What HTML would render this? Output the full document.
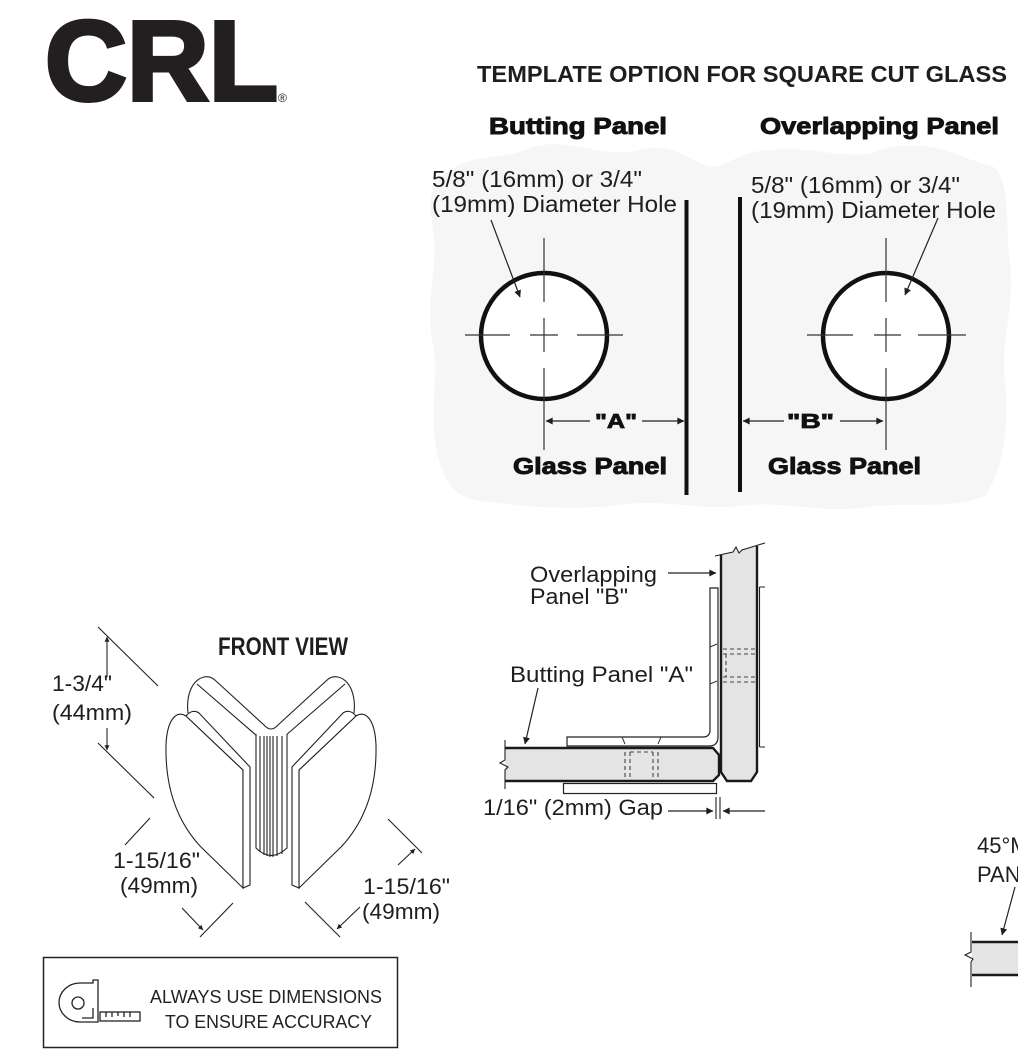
<!DOCTYPE html>
<html><head><meta charset="utf-8"><style>
html,body{margin:0;padding:0;background:#fff}
svg{display:block}
</style></head><body>
<svg width="1018" height="1056" viewBox="0 0 1018 1056" xmlns="http://www.w3.org/2000/svg" font-family="'Liberation Sans', Arial, sans-serif">
<defs>
<marker id="a" viewBox="0 0 10 10" refX="9.5" refY="5" markerWidth="12" markerHeight="7" markerUnits="userSpaceOnUse" orient="auto"><path d="M0,0 L10,5 L0,10 Z" fill="#1e1e1e"/></marker>
<marker id="s" viewBox="0 0 10 10" refX="9.5" refY="5" markerWidth="8" markerHeight="5" markerUnits="userSpaceOnUse" orient="auto"><path d="M0,0 L10,5 L0,10 Z" fill="#222"/></marker>
</defs>

<!-- Logo -->
<text x="45" y="100" font-size="113" font-weight="bold" fill="#231f20" stroke="#231f20" stroke-width="4" textLength="233" lengthAdjust="spacingAndGlyphs">CRL</text>
<text x="278" y="102" font-size="12" fill="#231f20">®</text>

<!-- Title -->
<text x="477" y="82" font-size="23" font-weight="bold" fill="#1e1e1e" textLength="530" lengthAdjust="spacingAndGlyphs">TEMPLATE OPTION FOR SQUARE CUT GLASS</text>

<!-- gray blob -->
<path d="M440,178 C470,150 500,162 530,148 C570,135 600,160 640,150 C680,140 700,172 718,166 C735,160 748,150 772,150 C820,146 850,162 880,150 C930,135 962,160 992,166 C1012,178 1005,230 1010,262 C1015,310 1000,340 1005,380 C1010,430 1002,470 986,495 C950,512 900,500 860,508 C820,513 780,500 740,506 C700,511 660,498 620,505 C570,511 520,506 480,501 C446,496 440,470 435,440 C430,400 440,370 432,340 C425,300 440,262 432,222 C428,198 432,188 440,178 Z" fill="#f6f6f6"/>

<!-- Panel headers -->
<text x="489" y="134" font-size="23" font-weight="bold" fill="#111" stroke="#111" stroke-width="0.9" textLength="178" lengthAdjust="spacingAndGlyphs">Butting Panel</text>
<text x="760" y="134" font-size="23" font-weight="bold" fill="#111" stroke="#111" stroke-width="0.9" textLength="239" lengthAdjust="spacingAndGlyphs">Overlapping Panel</text>

<!-- Left template -->
<text x="432" y="187" font-size="23" fill="#1e1e1e" textLength="210" lengthAdjust="spacingAndGlyphs">5/8" (16mm) or 3/4"</text>
<text x="432" y="212" font-size="23" fill="#1e1e1e" textLength="245" lengthAdjust="spacingAndGlyphs">(19mm) Diameter Hole</text>
<rect x="684.5" y="200" width="4" height="295" fill="#111"/>
<circle cx="544" cy="336" r="63" fill="#fff" stroke="#111" stroke-width="4.5"/>
<g stroke="#333" stroke-width="1.2">
<line x1="544" y1="238" x2="544" y2="302"/>
<line x1="544" y1="318" x2="544" y2="352"/>
<line x1="544" y1="368" x2="544" y2="450"/>
<line x1="465" y1="335" x2="510" y2="335"/>
<line x1="530" y1="335" x2="558" y2="335"/>
<line x1="577" y1="335" x2="623" y2="335"/>
</g>
<line x1="491" y1="220" x2="520" y2="297" stroke="#222" stroke-width="1.2" marker-end="url(#a)"/>
<line x1="590" y1="421" x2="546" y2="421" stroke="#222" stroke-width="1.3" marker-end="url(#a)"/>
<line x1="642" y1="421" x2="684" y2="421" stroke="#222" stroke-width="1.3" marker-end="url(#a)"/>
<text x="595" y="428" font-size="20" font-weight="bold" fill="#111" stroke="#111" stroke-width="0.8" textLength="42" lengthAdjust="spacingAndGlyphs">"A"</text>
<text x="513" y="474" font-size="23" font-weight="bold" fill="#111" stroke="#111" stroke-width="0.9" textLength="154" lengthAdjust="spacingAndGlyphs">Glass Panel</text>

<!-- Right template -->
<text x="751" y="193" font-size="23" fill="#1e1e1e" textLength="209" lengthAdjust="spacingAndGlyphs">5/8" (16mm) or 3/4"</text>
<text x="751" y="218" font-size="23" fill="#1e1e1e" textLength="245" lengthAdjust="spacingAndGlyphs">(19mm) Diameter Hole</text>
<rect x="738" y="197" width="4" height="295" fill="#111"/>
<circle cx="886" cy="336" r="63" fill="#fff" stroke="#111" stroke-width="4.5"/>
<g stroke="#333" stroke-width="1.2">
<line x1="886" y1="238" x2="886" y2="302"/>
<line x1="886" y1="318" x2="886" y2="352"/>
<line x1="886" y1="368" x2="886" y2="450"/>
<line x1="807" y1="335" x2="853" y2="335"/>
<line x1="874" y1="335" x2="901" y2="335"/>
<line x1="918" y1="335" x2="966" y2="335"/>
</g>
<line x1="938" y1="218" x2="905" y2="295" stroke="#222" stroke-width="1.2" marker-end="url(#a)"/>
<line x1="784" y1="421" x2="743" y2="421" stroke="#222" stroke-width="1.3" marker-end="url(#a)"/>
<line x1="840" y1="421" x2="883" y2="421" stroke="#222" stroke-width="1.3" marker-end="url(#a)"/>
<text x="787" y="428" font-size="20" font-weight="bold" fill="#111" stroke="#111" stroke-width="0.8" textLength="47" lengthAdjust="spacingAndGlyphs">"B"</text>
<text x="768" y="474" font-size="23" font-weight="bold" fill="#111" stroke="#111" stroke-width="0.9" textLength="153" lengthAdjust="spacingAndGlyphs">Glass Panel</text>

<!-- FRONT VIEW -->
<text x="218" y="655" font-size="25" font-weight="bold" fill="#1e1e1e" textLength="130" lengthAdjust="spacingAndGlyphs">FRONT VIEW</text>
<text x="52" y="691" font-size="22" fill="#1e1e1e" textLength="60" lengthAdjust="spacingAndGlyphs">1-3/4"</text>
<text x="52" y="720" font-size="22" fill="#1e1e1e" textLength="80" lengthAdjust="spacingAndGlyphs">(44mm)</text>
<text x="113" y="868" font-size="22" fill="#1e1e1e" textLength="87" lengthAdjust="spacingAndGlyphs">1-15/16"</text>
<text x="120" y="893" font-size="22" fill="#1e1e1e" textLength="78" lengthAdjust="spacingAndGlyphs">(49mm)</text>
<text x="363" y="894" font-size="22" fill="#1e1e1e" textLength="87" lengthAdjust="spacingAndGlyphs">1-15/16"</text>
<text x="362" y="919" font-size="22" fill="#1e1e1e" textLength="78" lengthAdjust="spacingAndGlyphs">(49mm)</text>

<g stroke="#222" stroke-width="1.1" fill="none">
<line x1="98" y1="627" x2="158" y2="686"/>
<line x1="98" y1="743" x2="154" y2="798"/>
<line x1="107" y1="677" x2="107" y2="637" marker-end="url(#s)"/>
<line x1="107" y1="728" x2="107" y2="750" marker-end="url(#s)"/>
<line x1="125" y1="845" x2="150" y2="818"/>
<line x1="182" y1="908" x2="203" y2="930" marker-end="url(#s)"/>
<line x1="233" y1="903" x2="200" y2="937"/>
<line x1="388" y1="819" x2="422" y2="853"/>
<line x1="305" y1="902" x2="340" y2="937"/>
<line x1="398" y1="865" x2="415" y2="849" marker-end="url(#s)"/>
<line x1="360" y1="907" x2="337" y2="929" marker-end="url(#s)"/>

<path d="M188,713 C186,695 192,680 204,677 C209,676 213,678 216,681 L264,725 Q271,733 278,725 L326,681 C329,678 333,676 338,677 C350,680 356,695 354,713" fill="#fff"/>
<path d="M197,684 L257,736"/>
<path d="M345,684 L285,736"/>
<path d="M256,734 L256,848 Q271,863 287,848 L287,734" fill="#fff"/>
<path d="M260,736 V852 M264,736 V855 M267,736 V856 M270,736 V857 M273,736 V857 M277,736 V856 M282,736 V854"/>
<path d="M243,770 L186,716 C176,710 167,720 166,745 C165,790 178,822 200,846 L243,888 Z" fill="#fff"/>
<path d="M186,716 C190,711 195,710 199,713 L250,767 L250,885 L243,888 L243,770 Z" fill="#fff"/>
<path d="M299,770 L356,716 C366,710 375,720 376,745 C377,790 364,822 342,846 L299,888 Z" fill="#fff"/>
<path d="M356,716 C352,711 347,710 343,713 L292,767 L292,885 L299,888 L299,770 Z" fill="#fff"/>
</g>

<!-- Middle corner diagram -->
<text x="530" y="582" font-size="22" fill="#1e1e1e" textLength="127" lengthAdjust="spacingAndGlyphs">Overlapping</text>
<text x="530" y="604" font-size="22" fill="#1e1e1e" textLength="98" lengthAdjust="spacingAndGlyphs">Panel "B"</text>
<text x="510" y="682" font-size="22" fill="#1e1e1e" textLength="183" lengthAdjust="spacingAndGlyphs">Butting Panel "A"</text>
<text x="483" y="815" font-size="22" fill="#1e1e1e" textLength="180" lengthAdjust="spacingAndGlyphs">1/16" (2mm) Gap</text>

<path d="M721,555 L733,552 L736,547 L739,553 L742,550 L757,546 L757,772 L751,781 L727,781 L721,772 Z" fill="#e4e4e4"/>
<path d="M715,556 L733,552 L736,547 L739,553 L742,550 L765,543" stroke="#222" stroke-width="1.1" fill="none"/>
<path d="M721,555 L721,772 L727,781 L751,781 L757,772 L757,546" stroke="#1a1a1a" stroke-width="2.4" fill="none"/>
<path d="M759.5,587 L759.5,747 M759.5,587 H765 M759.5,747 H765" stroke="#222" stroke-width="1.1" fill="none"/>
<g stroke="#444" stroke-width="1.1" stroke-dasharray="4,3" fill="none">
<line x1="723" y1="649" x2="756" y2="649"/>
<line x1="723" y1="654" x2="756" y2="654"/>
<line x1="723" y1="677" x2="756" y2="677"/>
<line x1="723" y1="682" x2="756" y2="682"/>
<line x1="726" y1="654" x2="726" y2="677"/>
</g>
<path d="M710,588 L718,588 L718,737 Q718,746 709,746 L567,746 L567,737 L703,737 Q710,737 710,730 Z" fill="#fff" stroke="#222" stroke-width="1.2"/>
<path d="M710,647 L717,644 M710,684 L717,681 M622,737 L625,744 M661,737 L658,744" stroke="#333" stroke-width="1" fill="none"/>
<path d="M505,748 L713,748 L719,755 L719,775 L713,781 L505,781 Z" fill="#e4e4e4"/>
<path d="M505,748 L713,748 L719,755 L719,775 L713,781 L505,781" stroke="#1a1a1a" stroke-width="2.4" fill="none"/>
<path d="M505,740 L505,760 L500,763 L508,767 L505,770 L505,789" stroke="#222" stroke-width="1.1" fill="none"/>
<g stroke="#444" stroke-width="1.1" stroke-dasharray="4,3" fill="none">
<line x1="625" y1="752" x2="625" y2="780"/>
<line x1="630" y1="752" x2="630" y2="780"/>
<line x1="653" y1="752" x2="653" y2="780"/>
<line x1="658" y1="752" x2="658" y2="780"/>
<line x1="630" y1="752" x2="653" y2="752"/>
</g>
<rect x="563.5" y="783.5" width="153" height="10" fill="#fff" stroke="#222" stroke-width="1.2"/>
<line x1="668" y1="573" x2="716" y2="573" stroke="#222" stroke-width="1.2" marker-end="url(#a)"/>
<line x1="538" y1="688" x2="525" y2="744" stroke="#222" stroke-width="1.2" marker-end="url(#a)"/>
<line x1="668" y1="811" x2="713" y2="811" stroke="#222" stroke-width="1.2" marker-end="url(#a)"/>
<line x1="765" y1="811" x2="723" y2="811" stroke="#222" stroke-width="1.2" marker-end="url(#a)"/>
<path d="M716,797 V819 M720,797 V819" stroke="#222" stroke-width="1.1"/>

<!-- bottom right partial -->
<text x="977" y="853" font-size="22" fill="#1e1e1e">45°MITERED</text>
<text x="977" y="882" font-size="22" fill="#1e1e1e">PANEL</text>
<line x1="1015" y1="887" x2="1002" y2="935" stroke="#222" stroke-width="1.2" marker-end="url(#a)"/>
<rect x="972" y="942" width="50" height="33" fill="#e4e4e4"/>
<path d="M972,942 H1020 M972,975 H1020" stroke="#1a1a1a" stroke-width="2.4"/>
<path d="M971,932 L971,952 L965,955 L973,959 L971,962 L971,987" stroke="#222" stroke-width="1.1" fill="none"/>

<!-- info box -->
<rect x="43.5" y="957.5" width="354" height="90" fill="#fff" stroke="#222" stroke-width="1.5"/>
<g stroke="#222" stroke-width="1.3" fill="none">
<path d="M98,1022 L80,1022 A21,19.5 0 0 1 80,983 L93,983 L93,980 L98,980 Z"/>
<circle cx="78" cy="1003" r="6"/>
<path d="M82,1018 L93,1018 L93,1008"/>
<rect x="100" y="1012" width="40" height="9"/>
<path d="M106,1012 V1017 M112,1012 V1017 M118,1012 V1016 M124,1012 V1017 M130,1012 V1017"/>
</g>
<text x="150" y="1003" font-size="18.5" fill="#222" textLength="232" lengthAdjust="spacingAndGlyphs">ALWAYS USE DIMENSIONS</text>
<text x="165" y="1028" font-size="18.5" fill="#222" textLength="207" lengthAdjust="spacingAndGlyphs">TO ENSURE ACCURACY</text>
</svg>
</body></html>
